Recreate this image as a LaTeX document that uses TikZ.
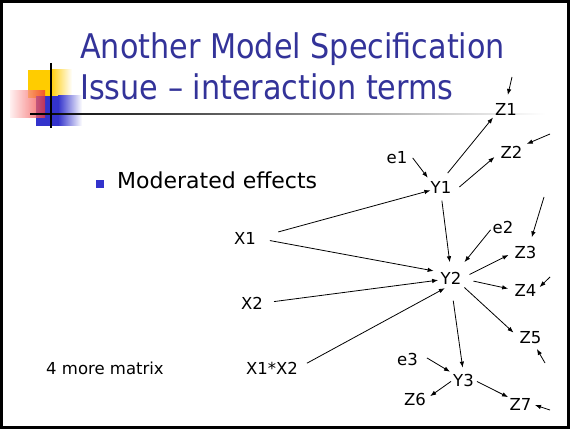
\documentclass[tikz,border=0pt]{standalone}
\usepackage{fontspec}
\setmainfont{DejaVu Sans}
\newfontfamily\ttlfont{DejaVu Sans}[FakeStretch=0.89]
\usetikzlibrary{arrows.meta}
\definecolor{ttlblue}{RGB}{51,51,153}
\definecolor{bulblue}{RGB}{51,51,204}
\definecolor{decyel}{RGB}{255,204,0}
\definecolor{decred}{RGB}{240,50,50}
\tikzset{
  arr/.style={-{Latex[length=6pt,width=4.5pt]}, line width=0.8pt},
  lbl/.style={inner sep=0pt, font=\fontsize{16.5}{19}\selectfont},
  ttl/.style={anchor=base west, inner sep=0pt, text=ttlblue, font=\ttlfont\fontsize{34}{40}\selectfont}
}
\begin{document}
\begin{tikzpicture}[x=1pt,y=-1pt]
\useasboundingbox (0,0) rectangle (572,430);
% frame
\draw[line width=2.5pt] (1.5,1.5) rectangle (568.5,427.5);
% decoration
\fill[decyel] (28,70) rectangle (50,98);
\shade[left color=decyel, right color=white] (50,70) rectangle (72,98);
\fill[bulblue] (36,96) rectangle (58,126);
\shade[left color=bulblue, right color=white] (58,96) rectangle (82,126);
\shade[left color=red!8, right color=decred, fill opacity=0.75] (10,91) rectangle (45,118);
\shade[left color=black, right color=white] (30,113.3) rectangle (545,114.8);
\draw[line width=1.5pt] (51,63) -- (51,128);
% title
\node[ttl] (t1) at (80,58.3) {Another Model Specification};
\node[ttl] (t2) at (80,100) {Issue – interaction terms};
% bullet
\fill[bulblue] (96,180) rectangle (104,188);
\node[anchor=base west, inner sep=0pt, font=\fontsize{22}{26}\selectfont] (b1) at (117,189) {Moderated effects};
% labels
\node[lbl] (M4) at (105,368) {4 more matrix};
\node[lbl] (X1) at (245,238) {X1};
\node[lbl] (X2) at (252,303) {X2};
\node[lbl] (X12) at (272,368) {X1*X2};
\node[lbl] (Y1) at (441,187.5) {Y1};
\node[lbl] (Y2) at (451,278.5) {Y2};
\node[lbl] (Y3) at (463.5,380) {Y3};
\node[lbl] (e1) at (397,157.5) {e1};
\node[lbl] (e2) at (503,227.5) {e2};
\node[lbl] (e3) at (407.5,359) {e3};
\node[lbl] (Z1) at (506,109) {Z1};
\node[lbl] (Z2) at (511.5,152) {Z2};
\node[lbl] (Z3) at (525.5,252) {Z3};
\node[lbl] (Z4) at (525.5,290) {Z4};
\node[lbl] (Z5) at (530.5,338) {Z5};
\node[lbl] (Z6) at (415,399) {Z6};
\node[lbl] (Z7) at (520.5,404) {Z7};
% free ends
\coordinate (i1) at (512,77);
\coordinate (i2) at (550,134);
\coordinate (i3) at (544,197);
\coordinate (i4) at (550,277);
\coordinate (i5) at (545,363);
\coordinate (i7) at (550,410);
% connectors
\draw[arr, shorten <=23pt, shorten >=11pt] (X1.east) -- (Y1.center);
\draw[arr, shorten <=14pt, shorten >=7pt] (X1.east) -- (Y2.north west);
\draw[arr, shorten <=11pt, shorten >=13pt] (X2.east) -- (Y2.center);
\draw[arr, shorten <=10pt, shorten >=7pt] (X12.east) -- (Y2.south);
\draw[arr, shorten <=7pt, shorten >=10pt] (Y1.south) -- (Y2.north);
\draw[arr, shorten <=8.5pt, shorten >=4.5pt] (e1.north east) -- (Y1.north west);
\draw[arr, shorten <=10.6pt, shorten >=3pt] (Y1.north) -- (Z1.south west);
\draw[arr, shorten <=10.4pt, shorten >=7.8pt] (Y1.south east) -- (Z2.west);
\draw[arr, shorten <=3pt, shorten >=13pt] (e2.west) -- (Y2.50);
\draw[arr, shorten <=9pt, shorten >=6.6pt] (Y2.east) -- (Z3.west);
\draw[arr, shorten <=12.3pt, shorten >=6.4pt] (Y2.east) -- (Z4.west);
\draw[arr, shorten <=4pt, shorten >=8pt] (Y2.south east) -- (Z5.west);
\draw[arr, shorten <=16pt, shorten >=6pt] (Y2.south) -- (Y3.north);
\draw[arr, shorten <=10.4pt, shorten >=3.5pt] (e3.north east) -- (Y3.north west);
\draw[arr, shorten <=2.4pt, shorten >=5pt] (Y3.west) -- (Z6.east);
\draw[arr, shorten <=3.3pt, shorten >=1.5pt] (Y3.east) -- (Z7.north west);
\draw[arr, shorten >=8pt] (i1) -- (Z1.north);
\draw[arr, shorten >=4.5pt] (i2) -- (Z2.north east);
\draw[arr, shorten >=8.5pt] (i3) -- (Z3.60);
\draw[arr, shorten >=4.2pt] (i4) -- (Z4.east);
\draw[arr, shorten >=5.4pt] (i5) -- (Z5.300);
\draw[arr, shorten >=3.6pt] (i7) -- (Z7.east);
\end{tikzpicture}
\end{document}
